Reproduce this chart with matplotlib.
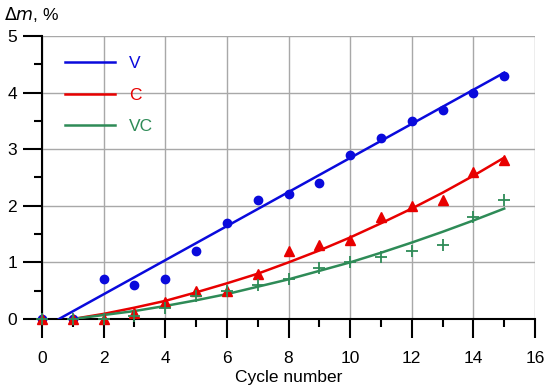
import matplotlib
matplotlib.use("Agg")
import matplotlib.pyplot as plt
from matplotlib.ticker import MultipleLocator
import numpy as np

cycles = np.arange(0, 16)
v_data = [0, 0, 0.7, 0.6, 0.7, 1.2, 1.7, 2.1, 2.2, 2.4, 2.9, 3.2, 3.5, 3.7, 4.0, 4.3]
c_data = [0, 0, 0, 0.1, 0.3, 0.5, 0.5, 0.8, 1.2, 1.3, 1.4, 1.8, 2.0, 2.1, 2.6, 2.8]
vc_data = [0, 0, 0, 0.05, 0.2, 0.4, 0.5, 0.6, 0.7, 0.9, 1.0, 1.1, 1.2, 1.3, 1.8, 2.1]

# fitted trend lines
v_fit_x = [0.55, 15]
v_fit_y = [0, 4.35]
fit_x = np.arange(1, 16)
c_fit_y = [0, 0.09, 0.20, 0.32, 0.47, 0.63, 0.80, 1.0, 1.21, 1.44, 1.69, 1.95, 2.23, 2.53, 2.85]
vc_fit_y = [0, 0.07, 0.14, 0.23, 0.33, 0.44, 0.57, 0.70, 0.85, 1.0, 1.17, 1.35, 1.54, 1.74, 1.95]

blue = "#0a0adc"
red = "#e80000"
green = "#2e8b57"

plt.rcParams['font.family'] = ['Liberation Sans', 'DejaVu Sans']
fig = plt.figure(figsize=(5.5, 3.89), dpi=100)
ax = fig.add_axes([0.0764, 0.18, 0.8963, 0.7276])

ax.grid(True, which='major', color='#a8a8a8', linewidth=1.0, zorder=0)
ax.set_axisbelow(True)

ax.plot(v_fit_x, v_fit_y, color=blue, lw=1.8, label='V', zorder=3)
ax.plot(fit_x, c_fit_y, color=red, lw=1.8, label='C', zorder=3)
ax.plot(fit_x, vc_fit_y, color=green, lw=1.8, label='VC', zorder=3)

ax.plot(cycles, v_data, 'o', color=blue, ms=6, zorder=4, clip_on=False)
ax.plot(cycles, c_data, '^', color=red, ms=6.5, zorder=4, clip_on=False)
ax.plot(cycles, vc_data, '+', color=green, ms=9, mew=1.3, zorder=5, clip_on=False)

ax.set_xlim(0, 16)
ax.set_ylim(0, 5)
ax.xaxis.set_major_locator(MultipleLocator(2))
ax.xaxis.set_minor_locator(MultipleLocator(1))
ax.yaxis.set_major_locator(MultipleLocator(1))
ax.yaxis.set_minor_locator(MultipleLocator(0.5))
ax.tick_params(which='major', length=14, width=1.5, labelsize=12.5, pad=4, direction='out')
ax.tick_params(which='minor', length=6, width=1.5, direction='out')
ax.tick_params(axis='x', pad=9)

for s in ['top', 'right']:
    ax.spines[s].set_visible(False)
for s in ['left', 'bottom']:
    ax.spines[s].set_linewidth(1.5)
    ax.spines[s].set_zorder(2)

ax.set_xlabel('Cycle number', fontsize=12.5, labelpad=3)
fig.text(0.008, 0.963, r'$\Delta$' + r'$m$' + ', %', fontsize=12.5, va='center', ha='left')

leg = ax.legend(loc='upper left', bbox_to_anchor=(0.015, 0.985), frameon=False,
                handlelength=2.9, handletextpad=0.8, labelspacing=0.95,
                fontsize=12.5, labelcolor='linecolor')

fig.savefig('out.png', dpi=100)
